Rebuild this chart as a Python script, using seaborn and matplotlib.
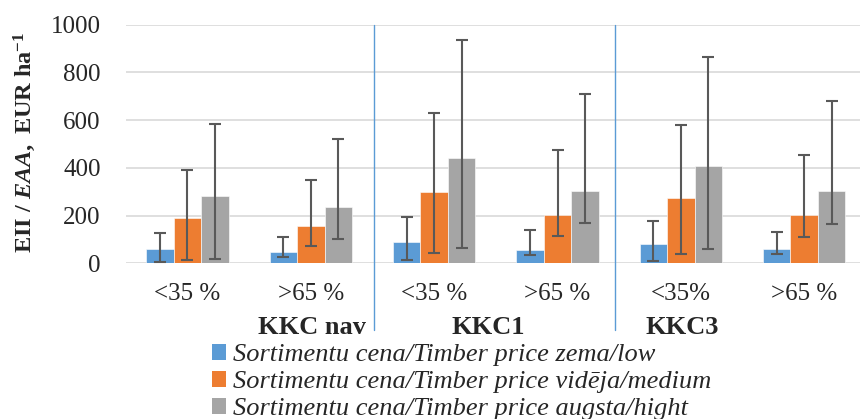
import numpy as np
import pandas as pd
import seaborn as sns
import matplotlib.pyplot as plt
from matplotlib.patches import Patch

categories = ["<35 %", ">65 %", "<35 % ", ">65 % ", "<35%", ">65 %  "]
tick_labels = ["<35 %", ">65 %", "<35 %", ">65 %", "<35%", ">65 %"]
series = [
    "Sortimentu cena/Timber price zema/low",
    "Sortimentu cena/Timber price vidēja/medium",
    "Sortimentu cena/Timber price augsta/hight",
]
low_vals = [60, 46, 88, 56, 80, 59]
med_vals = [191, 158, 297, 201, 272, 202]
high_vals = [283, 237, 443, 302, 408, 302]
low_min = [5, 28, 14, 35, 11, 39]
low_max = [128, 109, 194, 138, 176, 132]
med_min = [12, 71, 44, 113, 39, 110]
med_max = [392, 349, 629, 473, 580, 454]
high_min = [19, 103, 65, 168, 59, 166]
high_max = [584, 521, 935, 708, 866, 680]
groups = ["KKC nav", "KKC1", "KKC3"]

colors = ["#5B9BD5", "#ED7D31", "#A5A5A5"]

df = pd.DataFrame({
    "cat": categories * 3,
    "series": [s for s in series for _ in categories],
    "value": low_vals + med_vals + high_vals,
})
mins = [low_min, med_min, high_min]
maxs = [low_max, med_max, high_max]

sns.set_theme(style="white")
plt.rcParams["font.family"] = ["Liberation Serif", "DejaVu Serif"]
plt.rcParams["mathtext.fontset"] = "custom"
plt.rcParams["mathtext.rm"] = "Liberation Serif:bold"
plt.rcParams["mathtext.bf"] = "Liberation Serif:bold"
plt.rcParams["mathtext.it"] = "Liberation Serif:italic:bold"

fig = plt.figure(figsize=(8.6, 4.19), dpi=100)
ax = fig.add_axes([0.1463, 0.3716, 0.8605, 0.5695])

sns.barplot(data=df, x="cat", y="value", hue="series", palette=colors,
            width=0.67, errorbar=None, legend=False, ax=ax,
            edgecolor="white", linewidth=0.4, saturation=1)

for cont, lo, hi, vals in zip(ax.containers, mins, maxs, [low_vals, med_vals, high_vals]):
    xs = [p.get_x() + p.get_width() / 2 for p in cont.patches]
    v = np.array(vals)
    yerr = [v - np.array(lo), np.array(hi) - v]
    ax.errorbar(xs, v, yerr=yerr, fmt="none", ecolor="#595959",
                elinewidth=1.5, capsize=4.3, capthick=1.5, zorder=3)

ax.set_ylim(0, 1000)
ax.set_xlim(-0.5, 5.5)
ax.set_yticks(range(0, 1001, 200))
ax.yaxis.grid(True, color="#D9D9D9", linewidth=1.2)
ax.set_axisbelow(True)
for s in ax.spines.values():
    s.set_visible(False)
ax.set_xticks(range(6))
ax.set_xticklabels(tick_labels)
ax.tick_params(axis="x", length=0, pad=14, labelsize=18)
ax.tick_params(axis="y", length=0, pad=18, labelsize=18)
ax.set_xlabel("")
ax.set_ylabel(r"$\mathbf{EII\ /\ }\mathit{EAA}\mathbf{,\ EUR\ ha}^{\mathbf{-1}}$",
              fontsize=17.5)
ax.yaxis.set_label_coords(-0.118, 0.506)

for xv in [1.51, 3.47]:
    ax.plot([xv, xv], [1000, -280], color="#5B9BD5", linewidth=1, clip_on=False)

for gx, name in zip([1.01, 2.44, 4.01], groups):
    ax.text(gx, -268, name, ha="center", va="center", fontsize=19,
            fontweight="bold", clip_on=False)

handles = [Patch(facecolor=c, edgecolor="none") for c in colors]
leg = fig.legend(handles, series, loc="upper left",
                 bbox_to_anchor=(0.246, 1 - 344 / 419),
                 frameon=False, prop={"style": "italic", "size": 19},
                 handlelength=0.55, handleheight=0.55, handletextpad=0.25,
                 labelspacing=0.18, borderpad=0, borderaxespad=0)

fig.savefig("out.png", dpi=100)
